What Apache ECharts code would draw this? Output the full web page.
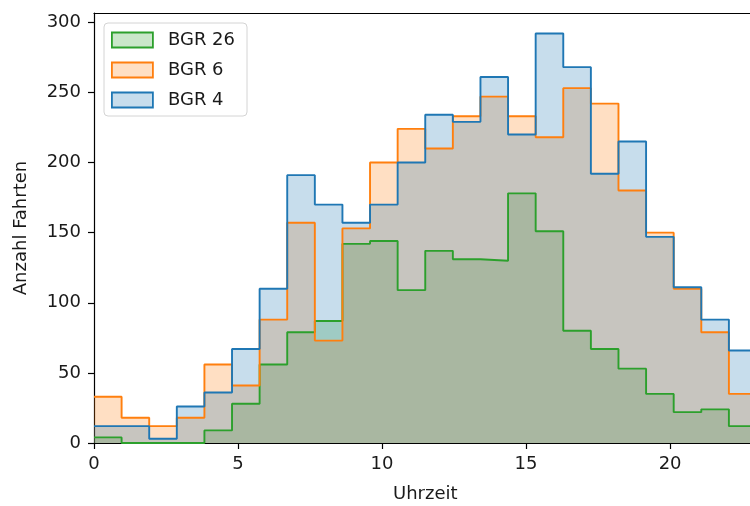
<!DOCTYPE html>
<html>
<head>
<meta charset="utf-8">
<script src="https://cdn.jsdelivr.net/npm/echarts@6/dist/echarts.min.js"></script>
<style>
  html, body { margin: 0; padding: 0; background: #fff; }
  #chart { width: 750px; height: 506px; }
</style>
</head>
<body>
<div id="chart"></div>
<script>
// Hourly trip counts per route, 24 equal bins spanning hour 0 to hour 23
const hourStart = 0;
const hourEnd = 23;
const seriesNames = ['BGR 26', 'BGR 6', 'BGR 4'];
const seriesColors = ['#2ca02c', '#ff7f0e', '#1f77b4'];
const countsBGR26 = [4, 0, 0, 0, 9, 28, 56, 79, 87, 142, 144, 109, 137, 131, 130, 178, 151, 80, 67, 53, 35, 22, 24, 12];
const countsBGR6  = [33, 18, 12, 18, 56, 41, 88, 157, 73, 153, 200, 224, 210, 233, 247, 233, 218, 253, 242, 180, 150, 110, 79, 35];
const countsBGR4  = [12, 12, 3, 26, 36, 67, 110, 191, 170, 157, 170, 200, 234, 229, 261, 220, 292, 268, 192, 215, 147, 111, 88, 66];
const xTicks = [0, 5, 10, 15, 20];
const yTicks = [0, 50, 100, 150, 200, 250, 300];
const yTop = 306.6;

function fade(hex, a) {
  const n = parseInt(hex.slice(1), 16);
  return 'rgba(' + ((n >> 16) & 255) + ',' + ((n >> 8) & 255) + ',' + (n & 255) + ',' + a + ')';
}

// Step outline points: each bin starts at its left edge; a closing point at the last edge
function stepPoints(counts) {
  const w = (hourEnd - hourStart) / counts.length;
  const pts = counts.map((c, i) => [hourStart + i * w, c]);
  pts.push([hourEnd, counts[counts.length - 1]]);
  return pts;
}

const allCounts = [countsBGR26, countsBGR6, countsBGR4];
const font = 'DejaVu Sans';
const textColor = '#1a1a1a';
const fontSize = 18;

const chart = echarts.init(document.getElementById('chart'), null, { renderer: 'canvas' });
chart.setOption({
  animation: false,
  backgroundColor: '#ffffff',
  grid: { left: 94, top: 13, bottom: 63, right: -6.5, outerBoundsMode: 'none', containLabel: false },
  legend: {
    left: 104, top: 23,
    orient: 'vertical',
    padding: [8, 12, 7, 7],
    itemWidth: 41, itemHeight: 15, itemGap: 12,
    backgroundColor: 'rgba(255,255,255,0.8)',
    borderColor: '#d4d4d4', borderWidth: 1, borderRadius: 4,
    textStyle: { fontFamily: font, fontSize: fontSize, color: textColor, padding: [0, 0, 0, 10] },
    data: seriesNames.map((n, i) => ({
      name: n, icon: 'rect',
      itemStyle: { color: fade(seriesColors[i], 0.25), borderColor: seriesColors[i], borderWidth: 1.8 }
    }))
  },
  xAxis: [{
    type: 'value', min: hourStart, max: hourEnd,
    name: 'Uhrzeit', nameLocation: 'middle', nameGap: 42,
    nameTextStyle: { fontFamily: font, fontSize: fontSize, color: textColor },
    axisLine: { show: true, onZero: false, lineStyle: { color: '#000', width: 1.2 } },
    axisTick: { show: true, length: 6, customValues: xTicks, lineStyle: { color: '#000', width: 1.2 } },
    axisLabel: { customValues: xTicks, margin: 12, fontFamily: font, fontSize: fontSize, color: textColor },
    splitLine: { show: false }
  }, {
    type: 'value', position: 'top', min: hourStart, max: hourEnd,
    axisLine: { show: true, onZero: false, lineStyle: { color: '#000', width: 1.2 } },
    axisTick: { show: false }, axisLabel: { show: false }, splitLine: { show: false }
  }],
  yAxis: {
    type: 'value', min: 0, max: yTop,
    name: 'Anzahl Fahrten', nameLocation: 'middle', nameGap: 64,
    nameTextStyle: { fontFamily: font, fontSize: fontSize, color: textColor },
    axisLine: { show: true, lineStyle: { color: '#000', width: 1.2 } },
    axisTick: { show: true, length: 6, customValues: yTicks, lineStyle: { color: '#000', width: 1.2 } },
    axisLabel: { customValues: yTicks, margin: 13, fontFamily: font, fontSize: fontSize, color: textColor },
    splitLine: { show: false }
  },
  series: seriesNames.map((n, i) => ({
    name: n, type: 'line', step: 'end',
    xAxisIndex: 0,
    showSymbol: false, symbol: 'none',
    data: stepPoints(allCounts[i]),
    lineStyle: { color: seriesColors[i], width: 1.9 },
    itemStyle: { color: seriesColors[i] },
    areaStyle: { color: fade(seriesColors[i], 0.25), opacity: 1, origin: 'start' },
    emphasis: { disabled: true }
  }))
});
</script>
</body>
</html>
